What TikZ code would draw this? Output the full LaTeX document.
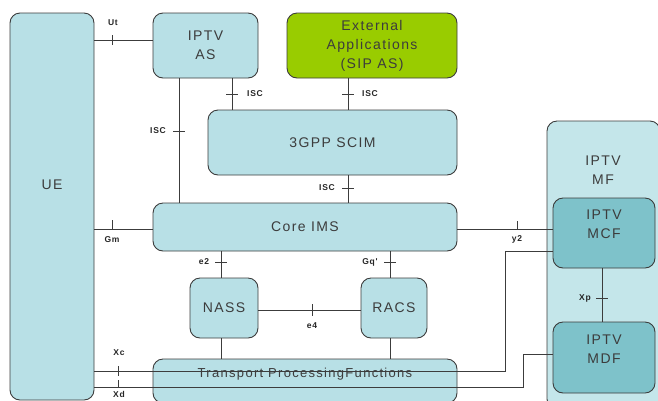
\documentclass[tikz,border=0pt]{standalone}
\usepackage{fontspec}
\setmainfont{Liberation Sans}
\newfontfamily\boxfont[LetterSpace=10]{Liberation Sans}
\newfontfamily\lblfont[LetterSpace=8]{Liberation Sans}
\definecolor{boxblue}{RGB}{184,224,230}
\definecolor{mfblue}{RGB}{196,230,234}
\definecolor{darkteal}{RGB}{126,194,202}
\definecolor{extgreen}{RGB}{153,204,0}
\definecolor{edge}{RGB}{60,60,60}
\definecolor{txt}{RGB}{60,60,60}
\tikzset{
  blk/.style={draw=edge, line width=0.9pt, rounded corners=10pt, fill=boxblue, inner sep=0pt},
  btxt/.style={font=\boxfont\fontsize{14}{19}\selectfont, text=txt, align=center, inner sep=0pt},
  lbl/.style={font=\lblfont\bfseries\fontsize{8.5}{10}\selectfont, text=black!85, inner sep=0pt},
  con/.style={draw=edge, line width=0.8pt},
  tk/.style={draw=edge, line width=0.8pt}
}
\begin{document}
\begin{tikzpicture}[x=1pt,y=-1pt]
\useasboundingbox (0,0) rectangle (658,400);
\clip (0,0) rectangle (658,400);
% boxes
\node[blk, minimum width=84pt, minimum height=387pt] (ue) at (52,206.5) {};
\node[btxt] (uet) at (52,185) {UE};
\node[blk, minimum width=105pt, minimum height=65pt, btxt] (ias) at (205.5,45.5) {IPTV\\AS};
\node[blk, fill=extgreen, minimum width=170pt, minimum height=65pt, btxt] (ext) at (372,45.5) {External\\Applications\\(SIP AS)};
\node[blk, minimum width=249pt, minimum height=65pt, btxt] (scim) at (332.5,142.5) {3GPP SCIM};
\node[blk, minimum width=304pt, minimum height=48pt, btxt] (core) at (305,227) {Core IMS};
\node[blk, minimum width=68pt, minimum height=60pt, btxt] (nass) at (224,308) {NASS};
\node[blk, minimum width=66pt, minimum height=60pt, btxt] (racs) at (394,308) {RACS};
\node[blk, minimum width=304pt, minimum height=44pt] (tpf) at (305,381) {};
\node[btxt, font=\boxfont\fontsize{13}{16}\selectfont] (tpft) at (305,374) {Transport ProcessingFunctions};
\node[blk, fill=mfblue, minimum width=113pt, minimum height=288pt] (mf) at (603.5,265) {};
\node[btxt] (mft) at (603,170) {IPTV\\MF};
\node[blk, fill=darkteal, minimum width=102pt, minimum height=70pt] (mcf) at (604,233) {};
\node[btxt] (mcft) at (604,224) {IPTV\\MCF};
\node[blk, fill=darkteal, minimum width=102pt, minimum height=71pt] (mdf) at (604,357.5) {};
\node[btxt] (mdft) at (604,349) {IPTV\\MDF};
% connectors
\draw[con] (ue.east |- 0,40) -- (ias.west |- 0,40);
\draw[tk] (112,35) -- (112,45);
\node[lbl] (lut) at (113,23) {Ut};

\draw[con] (ias.south -| 179,0) -- (core.north -| 179,0);
\draw[tk] (173,131) -- (185,131);
\node[lbl] (lisc1) at (158,131) {ISC};

\draw[con] (ias.south -| 232,0) -- (scim.north -| 232,0);
\draw[tk] (226,94) -- (238,94);
\node[lbl] (lisc2) at (255,94) {ISC};

\draw[con] (ext.south -| 348,0) -- (scim.north -| 348,0);
\draw[tk] (342,94) -- (354,94);
\node[lbl] (lisc3) at (370,94) {ISC};

\draw[con] (scim.south -| 348,0) -- (core.north -| 348,0);
\draw[tk] (342,188) -- (354,188);
\node[lbl] (lisc4) at (327,188) {ISC};

\draw[con] (ue.east |- 0,229) -- (core.west |- 0,229);
\draw[tk] (112,220) -- (112,229);
\node[lbl] (lgm) at (112,240) {Gm};

\draw[con] (core.south -| 221,0) -- (nass.north -| 221,0);
\draw[tk] (215,262) -- (227,262);
\node[lbl] (le2) at (204,262) {e2};

\draw[con] (core.south -| 390,0) -- (racs.north -| 390,0);
\draw[tk] (384,262) -- (396,262);
\node[lbl] (lgq) at (370,262) {Gq'};

\draw[con] (nass.east |- 0,310) -- (racs.west |- 0,310);
\draw[tk] (312,304) -- (312,316);
\node[lbl] (le4) at (312,326) {e4};

\draw[con] (nass.south -| 221,0) -- (tpf.north -| 221,0);
\draw[con] (racs.south -| 390,0) -- (tpf.north -| 390,0);

\draw[con] (core.east |- 0,229) -- (mcf.west |- 0,229);
\draw[tk] (517,221) -- (517,229);
\node[lbl] (ly2) at (517,239) {y2};

\coordinate (c1) at (505,251);
\coordinate (c2) at (505,371);
\draw[con] (mcf.west |- c1) -- (c1) -- (c2) -- (ue.east |- c2);
\draw[tk] (118,366) -- (118,376);
\node[lbl] (lxc) at (119,353) {Xc};

\coordinate (d1) at (523,354);
\coordinate (d2) at (523,387);
\draw[con] (mdf.west |- d1) -- (d1) -- (d2) -- (ue.east |- d2);
\draw[tk] (118,380) -- (118,388);
\node[lbl] (lxd) at (119,394.5) {Xd};

\draw[con] (mcf.south -| 602,0) -- (mdf.north -| 602,0);
\draw[tk] (596,298) -- (608,298);
\node[lbl] (lxp) at (585,298) {Xp};
\end{tikzpicture}
\end{document}
